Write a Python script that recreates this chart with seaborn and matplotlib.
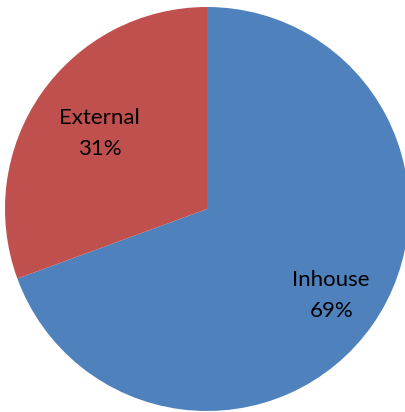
import matplotlib
matplotlib.use("Agg")
import matplotlib.pyplot as plt
import seaborn as sns
import numpy as np

categories = ["Inhouse", "External"]
shares = [69.4, 30.6]
colors = ["#4F81BD", "#C0504D"]
label_dist = [0.75, 0.65]

sns.set_theme(style="white")
plt.rcParams['font.family'] = ['Lato', 'DejaVu Sans']

fig = plt.figure(figsize=(4.05, 4.12), dpi=100)
ax = fig.add_axes([0, 0, 1, 1])

labels = [f"{c}\n{v:.0f}%" for c, v in zip(categories, shares)]
wedges, texts = ax.pie(shares, labels=labels, colors=colors, startangle=90,
                       counterclock=False, labeldistance=0.7,
                       wedgeprops={'linewidth': 0},
                       textprops={'fontsize': 16, 'color': 'black'})

# place each label along its wedge's bisector, Excel-style
for w, t, d in zip(wedges, texts, label_dist):
    mid = np.deg2rad((w.theta1 + w.theta2) / 2)
    t.set_position((d * np.cos(mid), d * np.sin(mid)))
    t.set_ha('center')
    t.set_va('center')
    t.set_linespacing(1.7)

ax.set_aspect('auto')
ax.set_xlim(-207 / 202, 198 / 202)
ax.set_ylim(-203 / 202, 209 / 202)
ax.axis('off')

fig.savefig("out.png", dpi=100)
